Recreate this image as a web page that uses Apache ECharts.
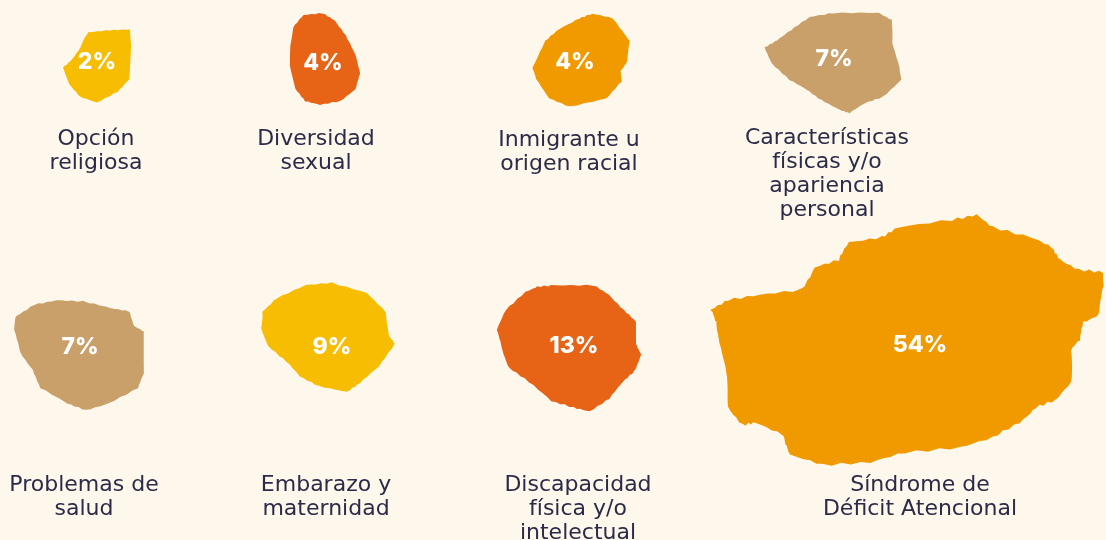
<!DOCTYPE html>
<html>
<head>
<meta charset="utf-8">
<script src="https://cdn.jsdelivr.net/npm/echarts@6/dist/echarts.min.js"></script>
<style>
  html, body { margin: 0; padding: 0; background: #fef7eb; }
  #chart { width: 1106px; height: 540px; }
</style>
</head>
<body>
<div id="chart"></div>
<script>
// datos: motivo de discriminación y porcentaje
var categories = [
    'Opción\nreligiosa',
    'Diversidad\nsexual',
    'Inmigrante u\norigen racial',
    'Características\nfísicas y/o\napariencia\npersonal',
    'Problemas de\nsalud',
    'Embarazo y\nmaternidad',
    'Discapacidad\nfísica y/o\nintelectual',
    'Síndrome de\nDéficit Atencional'
];
var values = [2, 4, 4, 7, 7, 9, 13, 54];

// layout (pixeles del lienzo)
var blobPos = [[97, 66], [325, 59], [581, 60], [833, 63], [79, 355], [328, 337], [569, 348], [907, 340]];
var pctPos = [[97, 62], [323, 63], [575, 62], [834, 59], [80, 347], [332, 347], [574, 346], [920, 345]];
var namePos = [[96, 127], [316, 127], [569, 128], [827, 126], [84, 473], [326, 473], [578, 473], [920, 473]];
var aspect = [[1.07, 1.15], [0.78, 1.02], [1.08, 1.03], [1.15, 0.85], [1.09, 0.92], [0.99, 0.81], [0.89, 0.78], [1.19, 0.76]];
var colors = ['#f6bd02', '#e76315', '#f19a00', '#c9a06a', '#c9a06a', '#f6bd02', '#e76315', '#f19a00'];

// contornos aproximados de cada mancha (caja 0-100)
var shapes = [
    [[37,4],[69,1],[99,0],[100,21],[97,68],[81,85],[50,100],[25,92],[10,75],[0,52],[13,41],[25,27],[32,11]],
    [[19,2],[46,0],[64,8],[79,24],[93,46],[100,65],[93,82],[71,95],[43,99],[21,95],[7,82],[0,57],[0,35],[4,15]],
    [[62,0],[82,5],[100,29],[97,51],[90,61],[92,72],[76,90],[38,99],[18,90],[4,69],[0,58],[14,29],[28,16],[48,5]],
    [[33,4],[50,0],[84,0],[93,7],[93,30],[99,53],[100,66],[86,83],[74,89],[62,99],[55,96],[42,86],[31,76],[18,66],[6,50],[0,34],[9,27],[20,17]],
    [[2,16],[15,6],[33,2],[53,3],[74,9],[89,12],[92,25],[99,30],[100,67],[95,80],[72,94],[56,100],[41,94],[20,80],[15,64],[5,49],[0,28]],
    [[1,28],[11,16],[34,4],[53,2],[79,11],[94,28],[96,50],[100,57],[89,77],[74,92],[64,100],[44,95],[29,86],[19,73],[6,59],[0,43]],
    [[41,3],[67,3],[78,10],[88,22],[96,31],[97,48],[100,56],[95,69],[88,77],[78,90],[64,100],[54,97],[38,92],[22,77],[9,66],[4,53],[0,37],[7,22],[20,8],[28,4]],
    [[0,38],[4,34],[13,32],[23,30],[26,21],[33,18],[35,11],[43,9],[48,5],[61,2],[67,0],[72,5],[81,9],[86,13],[89,18],[93,22],[99,23],[100,28],[98,40],[94,43],[94,50],[91,54],[91,67],[88,74],[82,77],[78,83],[72,89],[63,93],[49,95],[41,99],[28,100],[20,96],[19,88],[11,83],[8,84],[5,77],[4,68],[3,56],[2,43]]
];

// borde rugoso
function blobPath(pts) {
    var out = [], k = 0;
    for (var i = 0; i < pts.length; i++) {
        var a = pts[i], b = pts[(i + 1) % pts.length];
        for (var s = 0; s < 5; s++) {
            var t = s / 5;
            var x = a[0] + (b[0] - a[0]) * t + 0.5 * Math.sin(k * 12.9898);
            var y = a[1] + (b[1] - a[1]) * t + 0.5 * Math.sin(k * 78.233);
            out.push(x.toFixed(2) + ',' + y.toFixed(2));
            k++;
        }
    }
    return 'path://M' + out.join('L') + 'Z';
}

var K = 45;
var blobData = values.map(function (v, i) {
    var base = K * Math.sqrt(v);
    return {
        value: [blobPos[i][0], blobPos[i][1], v],
        symbol: blobPath(shapes[i]),
        symbolSize: [base * aspect[i][0], base * aspect[i][1]],
        itemStyle: { color: colors[i], opacity: 1 },
        label: { offset: [pctPos[i][0] - blobPos[i][0], pctPos[i][1] - blobPos[i][1]] }
    };
});

var nameData = categories.map(function (c, i) {
    return { value: [namePos[i][0], namePos[i][1]], name: c };
});

var myChart = echarts.init(document.getElementById('chart'));
myChart.setOption({
    backgroundColor: '#fef7eb',
    animation: false,
    grid: { left: 0, right: 0, top: 0, bottom: 0 },
    xAxis: { type: 'value', min: 0, max: 1106, show: false },
    yAxis: { type: 'value', min: 0, max: 540, inverse: true, show: false },
    series: [
        {
            type: 'scatter',
            data: blobData,
            silent: true,
            label: {
                show: true,
                position: 'inside',
                formatter: function (p) { return p.value[2] + '%'; },
                color: '#ffffff',
                fontFamily: 'Inter',
                fontWeight: 800,
                fontSize: 23
            },
            emphasis: { disabled: true }
        },
        {
            type: 'scatter',
            data: nameData,
            silent: true,
            symbolSize: 1,
            itemStyle: { color: 'rgba(0,0,0,0)', opacity: 1 },
            label: {
                show: true,
                position: 'inside',
                formatter: function (p) { return p.name; },
                align: 'center',
                verticalAlign: 'top',
                color: '#2b2a48',
                fontFamily: 'DejaVu Sans',
                fontSize: 22,
                lineHeight: 24
            },
            emphasis: { disabled: true }
        }
    ]
});
</script>
</body>
</html>
